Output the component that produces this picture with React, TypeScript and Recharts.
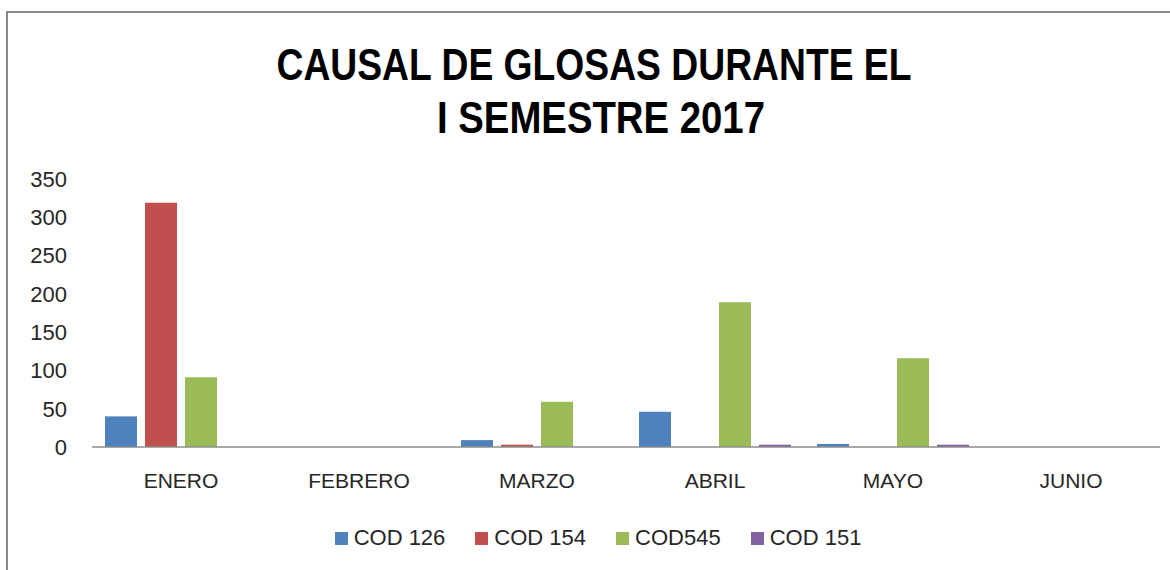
import React from 'react';
import { BarChart, Bar, XAxis, YAxis, Legend } from 'recharts';

const months = ['ENERO', 'FEBRERO', 'MARZO', 'ABRIL', 'MAYO', 'JUNIO'];
const cod126 = [40, 0, 9, 46, 4, 0];
const cod154 = [319, 0, 3, 0, 0, 0];
const cod545 = [91, 0, 59, 189, 116, 0];
const cod151 = [0, 0, 0, 3, 3, 0];
const yTicks = [0, 50, 100, 150, 200, 250, 300, 350];

const seriesDefs = [
    { key: 'cod126', name: 'COD 126', color: '#4F81BD' },
    { key: 'cod154', name: 'COD 154', color: '#C0504D' },
    { key: 'cod545', name: 'COD545', color: '#9BBB59' },
    { key: 'cod151', name: 'COD 151', color: '#8064A2' },
];

const data = months.map((m, i) => ({
    name: m,
    cod126: cod126[i],
    cod154: cod154[i],
    cod545: cod545[i],
    cod151: cod151[i],
}));

const font = '"Liberation Sans", Arial, sans-serif';

const LegendContent = () => (
    <div style={{ height: 24, display: 'flex', justifyContent: 'center', alignItems: 'center', paddingLeft: 24 }}>
        {seriesDefs.map((s) => (
            <div key={s.key} style={{ display: 'flex', alignItems: 'center', margin: '0 15px' }}>
                <span style={{ width: 13, height: 13, background: s.color, display: 'inline-block', marginRight: 6 }} />
                <span style={{ fontFamily: font, fontSize: 22, color: '#262626' }}>{s.name}</span>
            </div>
        ))}
    </div>
);

export default function App() {
    return (
        <div style={{ position: 'absolute', left: 0, top: 0, width: 1170, height: 570, background: '#fff', overflow: 'hidden' }}>
            <div
                style={{
                    position: 'absolute',
                    left: 6,
                    top: 11,
                    width: 1200,
                    height: 600,
                    borderLeft: '2px solid #888',
                    borderTop: '2px solid #888',
                }}
            />
            <svg width={1170} height={150} style={{ position: 'absolute', left: 0, top: 0 }}>
                <text x={594} y={80} textAnchor="middle" fontFamily={font} fontWeight="bold" fontSize={44}
                    textLength={635} lengthAdjust="spacingAndGlyphs" fill="#000">
                    CAUSAL DE GLOSAS DURANTE EL
                </text>
                <text x={601} y={133} textAnchor="middle" fontFamily={font} fontWeight="bold" fontSize={44}
                    textLength={328} lengthAdjust="spacingAndGlyphs" fill="#000">
                    I SEMESTRE 2017
                </text>
            </svg>
            <div style={{ position: 'absolute', left: 0, top: 0 }}>
                <BarChart
                    width={1170}
                    height={570}
                    data={data}
                    margin={{ top: 179, right: 10, bottom: 20, left: 12 }}
                    barSize={32}
                    barGap={8}
                >
                    <XAxis
                        dataKey="name"
                        height={79}
                        tickLine={false}
                        tickMargin={20}
                        axisLine={{ stroke: '#8c8c8c', strokeWidth: 1.5 }}
                        tick={{ fontFamily: font, fontSize: 21, fill: '#262626' }}
                    />
                    <YAxis
                        width={80}
                        domain={[0, 350]}
                        ticks={yTicks}
                        axisLine={false}
                        tickLine={false}
                        tickMargin={19}
                        tick={{ fontFamily: font, fontSize: 22, fill: '#262626' }}
                    />
                    <Legend verticalAlign="bottom" content={<LegendContent />} />
                    {seriesDefs.map((s) => (
                        <Bar key={s.key} dataKey={s.key} name={s.name} fill={s.color} isAnimationActive={false} />
                    ))}
                </BarChart>
            </div>
        </div>
    );
}
